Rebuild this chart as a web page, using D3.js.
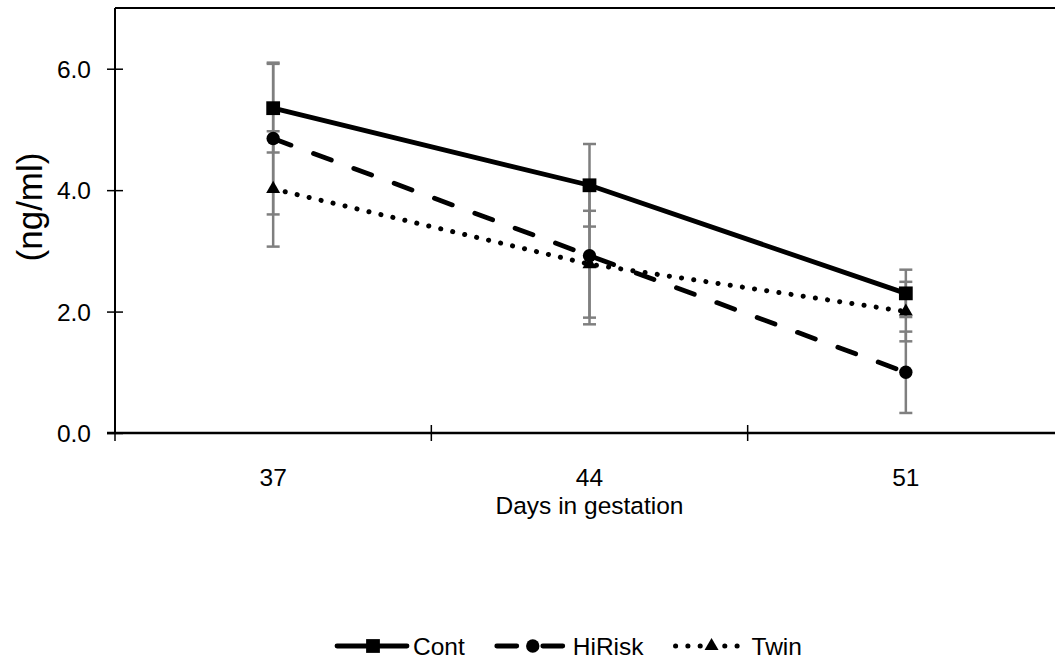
<!DOCTYPE html>
<html>
<head>
<meta charset="utf-8">
<script src="https://cdn.jsdelivr.net/npm/d3@7"></script>
<style>
  body { margin: 0; background: #fff; }
  text { font-family: "Liberation Sans", Arial, sans-serif; fill: #000; }
</style>
</head>
<body>
<div id="chart-area"></div>
<script>
const days = ['37', '44', '51'];
const seriesNames = ['Cont', 'HiRisk', 'Twin'];
const contValues = [5.35, 4.08, 2.30];
const contErrors = [0.73, 0.68, 0.39];
const hiRiskValues = [4.85, 2.92, 1.00];
const hiRiskErrors = [1.25, 1.13, 0.67];
const twinValues = [4.02, 2.78, 2.00];
const twinErrors = [0.95, 0.88, 0.49];
const yTicks = [0, 2, 4, 6];

const chartSize = { width: 1055, height: 662 };
const plot = { left: 115, right: 1064, top: 8, bottom: 433 };
const fontSize = 24.5;

const series = [
  { name: seriesNames[0], values: contValues, errors: contErrors, dash: null, width: 4.8, marker: 'square' },
  { name: seriesNames[1], values: hiRiskValues, errors: hiRiskErrors, dash: '19,24', width: 4.8, marker: 'circle' },
  { name: seriesNames[2], values: twinValues, errors: twinErrors, dash: '0.1,12.2', width: 5, marker: 'triangle' }
];

const markerSymbol = {
  square: d3.symbol(d3.symbolSquare, 190),
  circle: d3.symbol(d3.symbolCircle, 140),
  triangle: d3.symbol(d3.symbolTriangle, 85)
};

const addText = (g, x, y, str, size, anchor) => g.append('text')
  .attr('x', x)
  .attr('y', y)
  .attr('text-anchor', anchor)
  .style('font-size', size + 'px')
  .text(str);

const svg = d3.select('#chart-area').append('svg')
  .attr('width', chartSize.width)
  .attr('height', chartSize.height);

const x = d3.scaleBand().domain(days).range([plot.left, plot.right]);
const y = d3.scaleLinear().domain([0, 7]).range([plot.bottom, plot.top]);
const cx = d => x(d) + x.bandwidth() / 2;

// frame
svg.append('line')
  .attr('x1', plot.left).attr('x2', plot.right)
  .attr('y1', plot.top).attr('y2', plot.top)
  .attr('stroke', '#000').attr('stroke-width', 2);
svg.append('line')
  .attr('x1', plot.right).attr('x2', plot.right)
  .attr('y1', plot.top).attr('y2', plot.bottom)
  .attr('stroke', '#000').attr('stroke-width', 2);

// y axis
const yAxis = svg.append('g')
  .attr('class', 'y axis')
  .attr('transform', `translate(${plot.left},0)`)
  .call(d3.axisLeft(y).tickValues(yTicks).tickSize(8).tickFormat(''));
yAxis.select('.domain').attr('d', `M0,${plot.top}V${plot.bottom}`).attr('stroke-width', 2);
yAxis.selectAll('.tick line').attr('x1', 8).attr('stroke-width', 1.5);
yTicks.forEach(t => addText(svg, 91, y(t) + 9, d3.format('.1f')(t), fontSize, 'end'));

// x axis with ticks on band edges
const xAxis = svg.append('g')
  .attr('class', 'x axis')
  .attr('transform', `translate(0,${plot.bottom})`);
xAxis.append('line')
  .attr('x1', plot.left - 8).attr('x2', plot.right)
  .attr('stroke', '#000').attr('stroke-width', 2.5);
const edges = days.map(d => x(d)).concat([plot.right]);
xAxis.selectAll('.edge').data(edges).join('line')
  .attr('class', 'edge')
  .attr('x1', d => d).attr('x2', d => d)
  .attr('y1', -8).attr('y2', 8)
  .attr('stroke', '#000').attr('stroke-width', 1.5);
days.forEach(d => addText(svg, cx(d), 486, d, fontSize, 'middle'));

addText(svg, (plot.left + plot.right) / 2, 514, 'Days in gestation', fontSize, 'middle');

svg.append('text')
  .attr('transform', `translate(42,207) rotate(-90)`)
  .attr('text-anchor', 'middle')
  .style('font-size', '35px')
  .text('(ng/ml)');

// error bars
const errG = svg.append('g').attr('class', 'errors');
series.forEach(s => {
  s.values.forEach((v, i) => {
    const px = cx(days[i]);
    const top = y(v + s.errors[i]);
    const bot = y(v - s.errors[i]);
    errG.append('line').attr('x1', px).attr('x2', px).attr('y1', top).attr('y2', bot)
      .attr('stroke', '#7f7f7f').attr('stroke-width', 2.5);
    [top, bot].forEach(cy => errG.append('line')
      .attr('x1', px - 6.5).attr('x2', px + 6.5).attr('y1', cy).attr('y2', cy)
      .attr('stroke', '#7f7f7f').attr('stroke-width', 2.5));
  });
});

// lines and markers
const line = d3.line().x((v, i) => cx(days[i])).y(v => y(v));
series.forEach(s => {
  svg.append('path')
    .attr('d', line(s.values))
    .attr('fill', 'none')
    .attr('stroke', '#000')
    .attr('stroke-width', s.width)
    .attr('stroke-linecap', 'round')
    .attr('stroke-dasharray', s.dash);
});
series.forEach(s => {
  svg.selectAll(null).data(s.values).join('path')
    .attr('d', markerSymbol[s.marker])
    .attr('transform', (v, i) => `translate(${cx(days[i])},${y(v)})`)
    .attr('fill', '#000');
});

// legend
const legend = svg.append('g').attr('class', 'legend');
let lx = 337;
const ly = 646;
series.forEach(s => {
  legend.append('path')
    .attr('d', `M${lx},${ly}H${lx + 70}`)
    .attr('stroke', '#000')
    .attr('stroke-width', s.width)
    .attr('stroke-linecap', 'round')
    .attr('stroke-dasharray', s.name === 'HiRisk' ? '20,26' : s.dash);
  legend.append('path')
    .attr('d', markerSymbol[s.marker])
    .attr('transform', `translate(${lx + 36},${ly})`)
    .attr('fill', '#000');
  const t = addText(legend, lx + 76, ly + 9, s.name, fontSize, 'start');
  lx += 76 + t.node().getComputedTextLength() + 32;
});
</script>
</body>
</html>
